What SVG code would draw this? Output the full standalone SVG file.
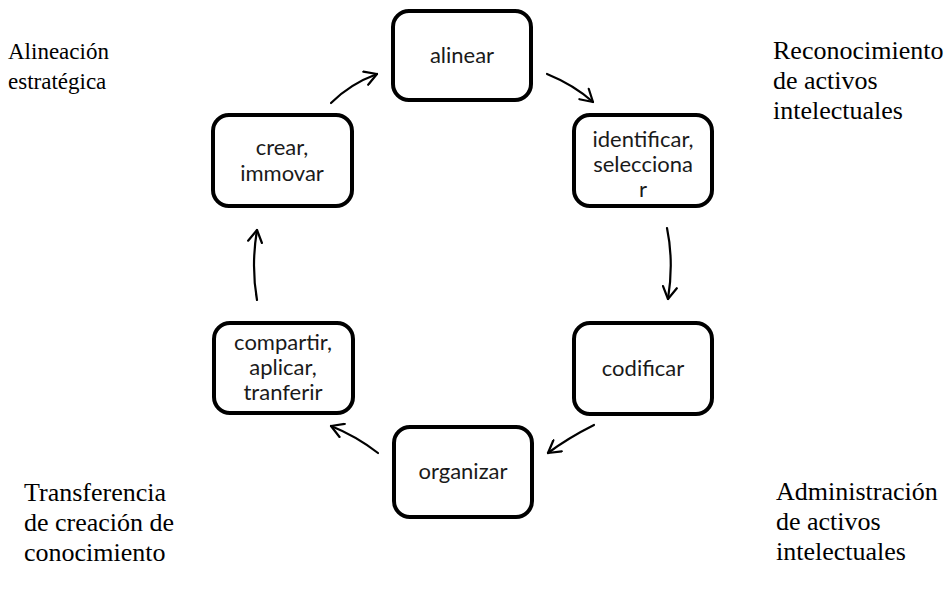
<svg xmlns="http://www.w3.org/2000/svg" width="952" height="589" viewBox="0 0 952 589">
<style>
.box{fill:#fff;stroke:#000;stroke-width:4}
.t{font-family:Lato,"Open Sans",sans-serif;font-size:22px;fill:#1a1a1a;text-anchor:middle}
.s{font-family:"Liberation Serif","Times New Roman",serif;font-size:26px;fill:#000}
.c{fill:none;stroke:#000;stroke-width:2.2;stroke-linecap:round}
</style>
<defs>
<marker id="ah" markerWidth="16" markerHeight="16" refX="0" refY="0" viewBox="-14 -8 16 16" orient="auto" markerUnits="userSpaceOnUse">
<path d="M-12,-7 L0,0 L-12,7" fill="none" stroke="#000" stroke-width="2.2" stroke-linecap="round" stroke-linejoin="round"/>
</marker>
</defs>
<rect width="952" height="589" fill="#fff"/>
<g id="connectors">
<path class="c" d="M331,103 Q350,84 377,74" marker-end="url(#ah)"/>
<path class="c" d="M547,74 Q574,85 593,102" marker-end="url(#ah)"/>
<path class="c" d="M667,228 Q674,262 668,299" marker-end="url(#ah)"/>
<path class="c" d="M594,425 Q568,438 548,453" marker-end="url(#ah)"/>
<path class="c" d="M378,453 Q356,436 331,426" marker-end="url(#ah)"/>
<path class="c" d="M257,300 Q251,266 257,230" marker-end="url(#ah)"/>
</g>
<g id="alinear"><rect class="box" x="393" y="11" width="138" height="89" rx="16"/><text class="t" x="462" y="63">alinear</text></g>
<g id="identificar"><rect class="box" x="574" y="115" width="138" height="91" rx="16"/><text class="t" x="643" y="147">identificar,</text><text class="t" x="643" y="172">selecciona</text><text class="t" x="643" y="197">r</text></g>
<g id="codificar"><rect class="box" x="574" y="323" width="138" height="91" rx="16"/><text class="t" x="643" y="376">codificar</text></g>
<g id="organizar"><rect class="box" x="394" y="427" width="138" height="90" rx="16"/><text class="t" x="463" y="479">organizar</text></g>
<g id="compartir"><rect class="box" x="214" y="323" width="139" height="90" rx="16"/><text class="t" x="283" y="350">compartir,</text><text class="t" x="283" y="375">aplicar,</text><text class="t" x="283" y="400">tranferir</text></g>
<g id="crear"><rect class="box" x="213" y="115" width="139" height="91" rx="16"/><text class="t" x="282" y="155">crear,</text><text class="t" x="282" y="181">immovar</text></g>
<g id="labels">
<text class="s" x="8" y="59" style="font-size:23px">Alineación</text>
<text class="s" x="8" y="89" style="font-size:23px">estratégica</text>
<text class="s" x="773" y="59">Reconocimiento</text>
<text class="s" x="773" y="89">de activos</text>
<text class="s" x="773" y="119">intelectuales</text>
<text class="s" x="24" y="501">Transferencia</text>
<text class="s" x="24" y="531">de creación de</text>
<text class="s" x="24" y="561">conocimiento</text>
<text class="s" x="776" y="500">Administración</text>
<text class="s" x="776" y="530">de activos</text>
<text class="s" x="776" y="560">intelectuales</text>
</g>
</svg>
